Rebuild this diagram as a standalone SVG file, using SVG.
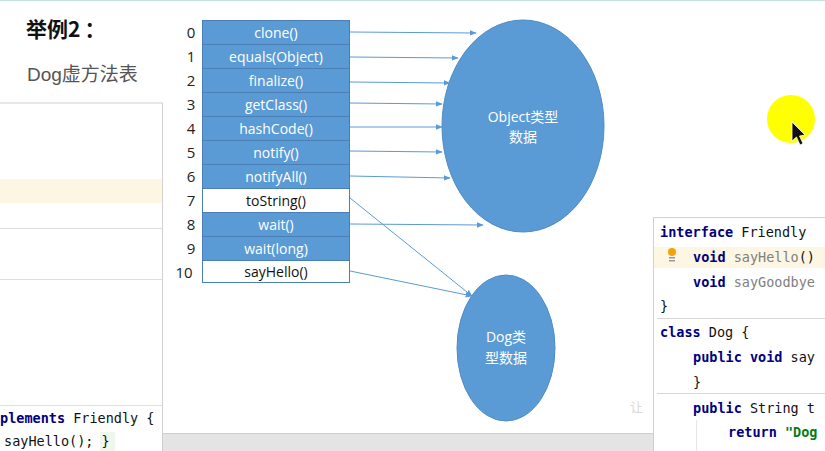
<svg xmlns="http://www.w3.org/2000/svg" width="825" height="451" viewBox="0 0 825 451">
<defs>
<style>
.num{font-family:"Open Sans","Liberation Sans",sans-serif;font-size:15px;fill:#222;text-anchor:middle}
.cell{stroke:#4a7fb5;stroke-width:1}
.blue{fill:#5b9bd5}
.white{fill:#fff}
.ct{font-family:"Open Sans","Liberation Sans",sans-serif;font-size:14px;text-anchor:middle}
.cw{fill:#fff}
.cb{fill:#111}
.conn{stroke:#5b9bd5;stroke-width:1;fill:none;marker-end:url(#ah)}
.code{font-family:"DejaVu Sans Mono","Liberation Mono",monospace;font-size:13.5px;fill:#111;white-space:pre}
.kw{fill:#000080;font-weight:bold}
.mg{fill:#808080}
.ell{fill:#5b9bd5;stroke:#4f8bc6;stroke-width:1}
.et{font-family:"Open Sans","Liberation Sans","Noto Sans CJK SC",sans-serif;font-size:14px;fill:#fff;text-anchor:middle}
</style>
<marker id="ah" viewBox="0 0 10 10" refX="9" refY="5" markerWidth="7" markerHeight="7" orient="auto" markerUnits="userSpaceOnUse">
<path d="M0,1 L10,5 L0,9 z" fill="#5b9bd5"/>
</marker>
</defs>
<rect width="825" height="451" fill="#fff"/>
<line x1="0" y1="0.5" x2="825" y2="0.5" stroke="#bfe3dc"/>
<g id="title">
<text x="26" y="37" font-family="'Noto Sans CJK SC','Liberation Sans',sans-serif" font-size="21" font-weight="bold" fill="#111">举例2<tspan dx="4">：</tspan></text>
<text x="27" y="81" font-family="'Liberation Sans','Noto Sans CJK SC',sans-serif" font-size="19" fill="#555">Dog虚方法表</text>
</g>
<g id="left-panel">
<rect x="-1" y="103" width="163.5" height="349" fill="#fff" stroke="#d0d0d0"/>
<rect x="0" y="179" width="162" height="24" fill="#fdf6e3"/>
<line x1="0" y1="228.5" x2="162" y2="228.5" stroke="#dedede"/>
<line x1="0" y1="279.5" x2="162" y2="279.5" stroke="#dedede"/>
<line x1="0" y1="405.5" x2="162" y2="405.5" stroke="#dedede"/>
<rect x="100" y="432" width="15" height="19" fill="#edf7ee"/>
<text class="code" x="0" y="423"><tspan class="kw">plements</tspan> Friendly {</text>
<text class="code" x="4" y="446">sayHello(); }</text>
</g>
<rect x="163" y="433" width="490" height="18" fill="#e4e4e4"/>
<line x1="163" y1="433.5" x2="653" y2="433.5" stroke="#cfcfcf"/>
<g id="vtable">
<g class="num">
<text x="191" y="38">0</text><text x="191" y="62">1</text><text x="191" y="86">2</text><text x="191" y="110">3</text><text x="191" y="134">4</text><text x="191" y="158">5</text><text x="191" y="182">6</text><text x="191" y="206">7</text><text x="191" y="230">8</text><text x="191" y="254">9</text><text x="184" y="278">10</text>
</g>
<rect class="cell blue" x="202.5" y="20.5" width="147" height="24"/>
<rect class="cell blue" x="202.5" y="44.5" width="147" height="24"/>
<rect class="cell blue" x="202.5" y="68.5" width="147" height="24"/>
<rect class="cell blue" x="202.5" y="92.5" width="147" height="24"/>
<rect class="cell blue" x="202.5" y="116.5" width="147" height="24"/>
<rect class="cell blue" x="202.5" y="140.5" width="147" height="24"/>
<rect class="cell blue" x="202.5" y="164.5" width="147" height="24"/>
<rect class="cell white" x="202.5" y="188.5" width="147" height="24"/>
<rect class="cell blue" x="202.5" y="212.5" width="147" height="24"/>
<rect class="cell blue" x="202.5" y="236.5" width="147" height="24"/>
<rect class="cell white" x="202.5" y="260.5" width="147" height="22"/>
<g class="ct">
<text class="cw" x="276" y="38">clone()</text>
<text class="cw" x="276" y="62">equals(Object)</text>
<text class="cw" x="276" y="86">finalize()</text>
<text class="cw" x="276" y="110">getClass()</text>
<text class="cw" x="276" y="134">hashCode()</text>
<text class="cw" x="276" y="158">notify()</text>
<text class="cw" x="276" y="182">notifyAll()</text>
<text class="cb" x="276" y="206">toString()</text>
<text class="cw" x="276" y="230">wait()</text>
<text class="cw" x="276" y="254">wait(long)</text>
<text class="cb" x="276" y="277">sayHello()</text>
</g>
</g>
<g id="object-data">
<ellipse class="ell" cx="523" cy="126" rx="81" ry="106"/>
<text class="et" x="523" y="122">Object类型</text>
<text class="et" x="523" y="142">数据</text>
</g>
<g id="dog-data">
<ellipse class="ell" cx="506" cy="348" rx="49" ry="73"/>
<text class="et" x="506" y="342">Dog类</text>
<text class="et" x="506" y="363">型数据</text>
</g>
<g id="connectors">
<line class="conn" x1="350" y1="32" x2="476" y2="33"/>
<line class="conn" x1="350" y1="57" x2="458" y2="58"/>
<line class="conn" x1="350" y1="82" x2="450" y2="83"/>
<line class="conn" x1="350" y1="103" x2="442" y2="104"/>
<line class="conn" x1="350" y1="127" x2="442" y2="127"/>
<line class="conn" x1="350" y1="151" x2="442" y2="152"/>
<line class="conn" x1="350" y1="176" x2="450" y2="178"/>
<line class="conn" x1="350" y1="224" x2="483" y2="225"/>
<line class="conn" x1="350" y1="198" x2="472" y2="296"/>
<line class="conn" x1="350" y1="271" x2="472" y2="296"/>
</g>
<g id="right-panel">
<rect x="653.5" y="217.5" width="175" height="240" fill="#fff" stroke="#d0d0d0"/>
<rect x="654" y="247" width="171" height="21" fill="#fdf6e3"/>
<line x1="657" y1="318.5" x2="825" y2="318.5" stroke="#d6d6d6"/>
<line x1="657" y1="393.5" x2="825" y2="393.5" stroke="#d6d6d6"/>
<circle cx="672" cy="252" r="4" fill="#f0a30a"/>
<rect x="669" y="257" width="6" height="1.5" fill="#999"/>
<rect x="669" y="260" width="6" height="1.5" fill="#999"/>
<text class="code" x="660" y="237"><tspan class="kw">interface</tspan> Friendly</text>
<text class="code" x="693" y="262"><tspan class="kw">void</tspan> <tspan class="mg">sayHello</tspan>()</text>
<text class="code" x="693" y="287"><tspan class="kw">void</tspan> <tspan class="mg">sayGoodbye</tspan></text>
<text class="code" x="660" y="311">}</text>
<text class="code" x="660" y="337"><tspan class="kw">class</tspan> Dog {</text>
<text class="code" x="693" y="362"><tspan class="kw">public void</tspan> say</text>
<text class="code" x="693" y="387">}</text>
<text class="code" x="693" y="413"><tspan class="kw">public</tspan> String t</text>
<line x1="696.5" y1="420" x2="696.5" y2="451" stroke="#e6e6e6"/>
<text class="code" x="728" y="437"><tspan class="kw">return</tspan> <tspan fill="#067d17" font-weight="bold">"Dog</tspan></text>
<text x="630" y="412" font-family="'Noto Sans CJK SC',sans-serif" font-size="13" fill="#d8d8d8">让</text>
</g>
<g id="pointer">
<circle cx="791" cy="119" r="24" fill="#ffff00"/>
<path d="M792,122 L792,141 L796.5,137 L800,145 L803,143.5 L799.5,136 L805,135 Z" fill="#111" stroke="#fff" stroke-width="0.8"/>
</g>
</svg>
